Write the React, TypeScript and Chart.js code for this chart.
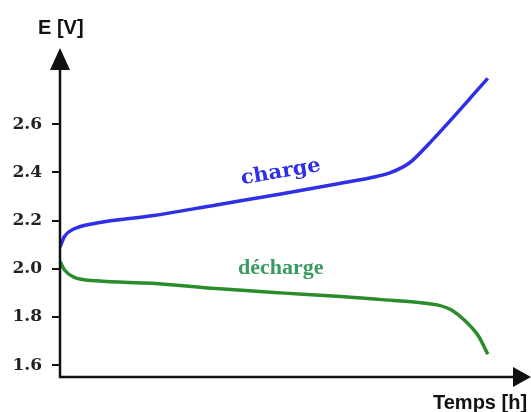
import React, { useEffect, useRef } from "react";
import { Chart, registerables } from "chart.js";

Chart.register(...registerables);

const chargeTime = [0, 1, 3, 8, 20, 34, 48, 61, 68, 72, 76, 80, 93];
const chargeValues = [2.09, 2.135, 2.165, 2.19, 2.22, 2.265, 2.31, 2.355, 2.38, 2.4, 2.44, 2.515, 2.79];
const dischargeTime = [0, 1, 3, 8, 20, 34, 48, 61, 70, 78, 82, 85, 88, 91, 93];
const dischargeValues = [2.03, 1.995, 1.965, 1.95, 1.94, 1.918, 1.9, 1.885, 1.872, 1.86, 1.85, 1.83, 1.785, 1.72, 1.645];
const yTicks = [1.6, 1.8, 2.0, 2.2, 2.4, 2.6];
const yTitle = "E [V]";
const xTitle = "Temps [h]";
const chargeLabel = "charge";
const dischargeLabel = "décharge";

const BLUE = "#2f2fe6";
const GREEN = "#2b8c2b";

const decorPlugin = {
  id: "decor",
  afterDraw(chart: any) {
    const ctx = chart.ctx;
    const a = chart.chartArea;
    const xs = chart.scales.x;
    const ys = chart.scales.y;
    ctx.save();
    ctx.strokeStyle = "#111";
    ctx.fillStyle = "#111";
    ctx.lineWidth = 2.5;
    // axes
    ctx.beginPath();
    ctx.moveTo(a.left, a.top);
    ctx.lineTo(a.left, a.bottom + 1);
    ctx.lineTo(a.right, a.bottom + 1);
    ctx.stroke();
    // y arrow
    ctx.beginPath();
    ctx.moveTo(a.left, a.top - 22);
    ctx.lineTo(a.left - 10, a.top);
    ctx.lineTo(a.left + 10, a.top);
    ctx.closePath();
    ctx.fill();
    // x arrow
    ctx.beginPath();
    ctx.moveTo(a.right + 11, a.bottom + 1);
    ctx.lineTo(a.right - 7, a.bottom - 9);
    ctx.lineTo(a.right - 7, a.bottom + 11);
    ctx.closePath();
    ctx.fill();
    // axis titles
    ctx.font = "bold 20px 'Liberation Sans', Arial, sans-serif";
    ctx.textBaseline = "alphabetic";
    ctx.textAlign = "left";
    ctx.fillText(yTitle, 38, 34);
    ctx.fillText(xTitle, 433, 409);
    // series labels
    const cx = xs.getPixelForValue(48);
    const cy = ys.getPixelForValue(2.4);
    ctx.save();
    ctx.translate(cx, cy);
    ctx.rotate(-0.17);
    ctx.scale(1.05, 1);
    ctx.fillStyle = BLUE;
    ctx.textAlign = "center";
    ctx.textBaseline = "middle";
    ctx.font = "bold 20px 'DejaVu Serif', serif";
    ctx.fillText(chargeLabel, 0, 0);
    ctx.restore();

    const dx = xs.getPixelForValue(48);
    const dy = ys.getPixelForValue(2.0);
    ctx.save();
    ctx.translate(dx, dy);
    ctx.scale(1.1, 1);
    ctx.fillStyle = "#3a9a62";
    ctx.textAlign = "center";
    ctx.textBaseline = "middle";
    ctx.font = "bold 20px 'Liberation Serif', serif";
    ctx.fillText(dischargeLabel, 0, 0);
    ctx.restore();
    ctx.restore();
  },
};

export default function App() {
  const ref = useRef<HTMLCanvasElement>(null);
  useEffect(() => {
    if (!ref.current) return;
    const chart = new Chart(ref.current, {
      type: "line",
      data: {
        datasets: [
          {
            label: chargeLabel,
            data: chargeTime.map((t, i) => ({ x: t, y: chargeValues[i] })),
            borderColor: BLUE,
            borderWidth: 3.5,
            pointRadius: 0,
            cubicInterpolationMode: "monotone",
          },
          {
            label: dischargeLabel,
            data: dischargeTime.map((t, i) => ({ x: t, y: dischargeValues[i] })),
            borderColor: GREEN,
            borderWidth: 3.5,
            pointRadius: 0,
            cubicInterpolationMode: "monotone",
          },
        ],
      },
      options: {
        responsive: false,
        animation: false,
        layout: { padding: { left: 0, top: 70, right: 11, bottom: 36 } },
        plugins: { legend: { display: false }, tooltip: { enabled: false } },
        scales: {
          x: { type: "linear", min: 0, max: 100, display: false },
          y: {
            type: "linear",
            min: 1.555,
            max: 2.825,
            afterFit: (s: any) => {
              s.width = 60;
            },
            afterBuildTicks: (s: any) => {
              s.ticks = yTicks.map((v) => ({ value: v }));
            },
            border: { display: false },
            grid: { drawOnChartArea: false, drawTicks: true, tickLength: 8, color: "#111", lineWidth: 2 },
            ticks: {
              padding: 10,
              color: "#222",
              font: { family: "'DejaVu Serif', serif", weight: "bold", size: 17 },
              callback: (v: any) => Number(v).toFixed(1),
            },
          },
        },
      },
      plugins: [decorPlugin],
    });
    return () => chart.destroy();
  }, []);
  return (
    <div style={{ position: "absolute", left: 0, top: 0, width: 531, height: 412, background: "#fff" }}>
      <canvas ref={ref} width={531} height={412} />
    </div>
  );
}
